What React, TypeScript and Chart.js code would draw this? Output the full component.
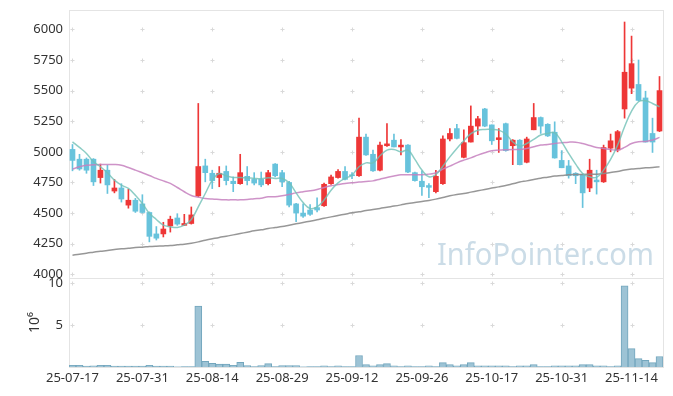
import React, { useEffect, useRef } from 'react';
import { Chart, registerables } from 'chart.js';

Chart.register(...registerables);

const dates = [
  '25-07-17','25-07-18','25-07-21','25-07-22','25-07-23','25-07-24','25-07-25','25-07-28','25-07-29','25-07-30',
  '25-07-31','25-08-01','25-08-04','25-08-05','25-08-06','25-08-07','25-08-08','25-08-11','25-08-12','25-08-13',
  '25-08-14','25-08-18','25-08-19','25-08-20','25-08-21','25-08-22','25-08-25','25-08-26','25-08-27','25-08-28',
  '25-08-29','25-09-01','25-09-02','25-09-03','25-09-04','25-09-05','25-09-08','25-09-09','25-09-10','25-09-11',
  '25-09-12','25-09-15','25-09-16','25-09-17','25-09-18','25-09-19','25-09-22','25-09-23','25-09-24','25-09-25',
  '25-09-26','25-09-29','25-09-30','25-10-01','25-10-02','25-10-10','25-10-13','25-10-14','25-10-15','25-10-16',
  '25-10-17','25-10-20','25-10-21','25-10-22','25-10-23','25-10-24','25-10-27','25-10-28','25-10-29','25-10-30',
  '25-10-31','25-11-03','25-11-04','25-11-05','25-11-06','25-11-07','25-11-10','25-11-11','25-11-12','25-11-13',
  '25-11-14','25-11-17','25-11-18','25-11-19','25-11-20'
];

const opens = [
  5020,4940,4940,4940,4790,4850,4680,4705,4565,4605,
  4575,4505,4330,4330,4395,4460,4400,4415,4640,4885,
  4825,4790,4840,4760,4740,4800,4775,4775,4740,4900,
  4830,4750,4575,4500,4525,4545,4560,4740,4790,4840,
  4810,4805,5120,4980,4850,5050,5095,5040,5055,4830,
  4760,4725,4675,4740,5105,5190,4955,5080,5210,5350,
  5220,5100,5230,5050,5095,4915,5180,5280,5225,5160,
  4930,4885,4825,4815,4705,4770,4755,5030,5015,5350,
  5520,5550,5440,5150,5170
];

const closes = [
  4930,4860,4850,4755,4850,4730,4705,4615,4605,4515,
  4505,4310,4295,4370,4450,4410,4415,4485,4880,4830,
  4765,4825,4765,4740,4830,4765,4745,4730,4830,4805,
  4755,4565,4500,4475,4490,4525,4735,4795,4840,4775,
  4805,5120,4975,4845,5055,5065,5040,5055,4835,4765,
  4715,4710,4800,5105,5150,5110,5075,5210,5270,5210,
  5090,5115,5010,5095,4895,5105,5280,5210,5130,4950,
  4870,4805,4805,4665,4850,4755,5035,5090,5165,5650,
  5720,5420,5080,5080,5500
];

const highs = [
  5060,4980,4950,4945,4900,4890,4775,4740,4695,4620,
  4650,4510,4390,4425,4475,4495,4490,4550,5395,4940,
  4850,4880,4885,4795,4980,4880,4830,4835,4850,4905,
  4850,4760,4580,4575,4570,4625,4745,4810,4855,4880,
  4830,5275,5145,5015,5080,5230,5145,5100,5060,4835,
  4845,4740,4850,5130,5190,5225,5180,5375,5290,5355,
  5220,5190,5235,5100,5100,5120,5395,5285,5230,5245,
  5010,4930,4830,4820,4940,4850,5055,5145,5175,6060,
  5945,5750,5495,5275,5615
];

const lows = [
  4845,4850,4825,4725,4745,4660,4665,4590,4540,4505,
  4500,4265,4280,4305,4345,4400,4398,4410,4635,4755,
  4700,4715,4730,4675,4735,4730,4730,4715,4730,4795,
  4715,4550,4430,4465,4480,4510,4555,4735,4785,4770,
  4780,4800,4970,4840,4845,5045,5040,4975,4830,4760,
  4645,4625,4665,4735,5090,5105,4950,5080,5140,5205,
  5060,4995,5005,4895,4893,4910,5180,5150,5125,4948,
  4870,4785,4740,4545,4675,4655,4750,5000,5000,5275,
  5475,5415,5080,4995,5165
];

const ma5 = [
  5082,5036,4987,4919,4878,4829,4769,4728,4701,4646,
  4578,4497,4448,4401,4388,4382,4401,4448,4551,4660,
  4769,4823,4804,4791,4791,4788,4783,4780,4788,4783,
  4783,4747,4665,4586,4538,4551,4606,4687,4747,4783,
  4810,4878,4910,4910,4968,5014,5019,5000,5014,4938,
  4851,4796,4815,4883,4959,5028,5090,5148,5177,5183,
  5183,5177,5145,5082,5047,5068,5101,5137,5150,5156,
  5082,4987,4900,4823,4796,4791,4851,4938,5055,5205,
  5333,5409,5417,5395,5368
];

const ma20 = [
  4859,4878,4891,4894,4897,4897,4897,4891,4872,4851,
  4829,4807,4783,4763,4742,4709,4674,4644,4630,4619,
  4614,4611,4608,4608,4608,4611,4617,4622,4633,4633,
  4641,4652,4665,4674,4682,4693,4709,4723,4733,4742,
  4747,4753,4758,4763,4777,4791,4802,4813,4813,4813,
  4813,4818,4829,4859,4883,4910,4932,4951,4973,4992,
  5009,5014,5017,5019,5019,5028,5041,5055,5060,5068,
  5074,5079,5079,5068,5052,5036,5028,5019,5014,5036,
  5068,5082,5085,5096,5118
];

const ma60 = [
  4156,4164,4173,4181,4189,4194,4203,4208,4213,4219,
  4222,4227,4230,4232,4235,4241,4246,4254,4265,4279,
  4290,4301,4311,4322,4333,4344,4355,4363,4374,4382,
  4390,4401,4412,4423,4434,4445,4458,4469,4480,4491,
  4502,4510,4521,4529,4538,4548,4557,4567,4578,4586,
  4595,4603,4614,4627,4641,4652,4660,4671,4682,4693,
  4704,4714,4725,4739,4753,4763,4774,4785,4793,4802,
  4807,4813,4815,4815,4818,4818,4823,4832,4840,4851,
  4859,4864,4870,4872,4878
];

// volume in millions of shares
const volumes = [
  0.2,0.2,0.1,0.15,0.2,0.2,0.1,0.1,0.1,0.1,
  0.1,0.2,0.1,0.1,0.1,0.03,0.05,0.05,7.28,0.68,
  0.45,0.35,0.35,0.2,0.56,0.18,0.05,0.18,0.4,0.05,
  0.18,0.18,0.18,0.03,0.05,0.05,0.15,0.05,0.15,0.05,
  0.05,1.37,0.3,0.15,0.3,0.4,0.15,0.05,0.15,0.05,
  0.05,0.15,0.05,0.52,0.3,0.15,0.3,0.52,0.15,0.15,
  0.15,0.15,0.15,0.05,0.15,0.15,0.3,0.05,0.05,0.15,
  0.15,0.15,0.15,0.3,0.3,0.15,0.15,0.05,0.15,9.68,
  2.2,1.0,0.8,0.52,1.25
];

const xTickLabels = ['25-07-17','25-07-31','25-08-14','25-08-29','25-09-12','25-09-26','25-10-17','25-10-31','25-11-14'];
const priceTicks = [4000,4250,4500,4750,5000,5250,5500,5750,6000];
const volumeTicks = [5,10];
const volumeTitle = '10⁶';
const watermarkText = 'InfoPointer.com';

const UP = '#ee3737';
const DOWN = '#68c3dc';

const framePlugin = {
  id: 'frameAndCrosses',
  beforeDatasetsDraw(chart: any) {
    const { ctx, chartArea, scales } = chart;
    const xs = scales.x, yp = scales.y, yv = scales.vol;
    ctx.save();
    // watermark
    ctx.font = "31px 'Noto Sans', sans-serif";
    ctx.fillStyle = '#cbdce7';
    ctx.textAlign = 'right';
    ctx.textBaseline = 'alphabetic';
    ctx.fillText(watermarkText, chartArea.right - 9, yp.bottom - 13, 217);
    // frames
    ctx.strokeStyle = '#e4e4e4';
    ctx.lineWidth = 1;
    ctx.strokeRect(chartArea.left + 0.5, yp.top + 0.5, chartArea.right - chartArea.left, yp.bottom - yp.top);
    ctx.strokeRect(chartArea.left + 0.5, yv.top + 0.5, chartArea.right - chartArea.left, yv.bottom - yv.top);
    // crosses
    ctx.strokeStyle = '#d9d9d9';
    const drawCross = (px: number, py: number) => {
      const cx = Math.round(px) + 0.5, cy = Math.round(py) + 0.5;
      ctx.beginPath();
      ctx.moveTo(cx - 2, cy); ctx.lineTo(cx + 2, cy);
      ctx.moveTo(cx, cy - 2); ctx.lineTo(cx, cy + 2);
      ctx.stroke();
    };
    xs.ticks.forEach((t: any) => {
      const px = xs.getPixelForValue(t.value);
      yp.ticks.forEach((u: any) => drawCross(px, yp.getPixelForValue(u.value)));
      yv.ticks.forEach((u: any) => drawCross(px, yv.getPixelForValue(u.value)));
    });
    ctx.restore();
  },
};

export default function App() {
  const ref = useRef<HTMLCanvasElement>(null);
  useEffect(() => {
    const colors = opens.map((o, i) => (closes[i] >= o ? UP : DOWN));
    Chart.defaults.font.family = "'Noto Sans', sans-serif";
    Chart.defaults.font.size = 13;
    Chart.defaults.color = '#333';
    const fitY = (s: any) => { s.width = 61; s.paddingTop = 0; s.paddingBottom = 0; };
    const chart = new Chart(ref.current as HTMLCanvasElement, {
      type: 'bar',
      data: {
        labels: dates,
        datasets: [
          { type: 'line', data: ma5, borderColor: 'rgba(112,192,182,0.8)', borderWidth: 1.5, pointRadius: 0, tension: 0.4, yAxisID: 'y', order: 0 } as any,
          { type: 'line', data: ma20, borderColor: 'rgba(198,128,190,0.85)', borderWidth: 1.5, pointRadius: 0, tension: 0.4, yAxisID: 'y', order: 0 } as any,
          { type: 'line', data: ma60, borderColor: 'rgba(140,140,140,0.9)', borderWidth: 1.5, pointRadius: 0, tension: 0.4, yAxisID: 'y', order: 0 } as any,
          { type: 'bar', data: lows.map((l, i) => [l, highs[i]]), backgroundColor: colors, barThickness: 1, grouped: false, yAxisID: 'y', order: 1 } as any,
          { type: 'bar', data: opens.map((o, i) => [o, closes[i]]), backgroundColor: colors, barThickness: 5, minBarLength: 1, grouped: false, yAxisID: 'y', order: 1 } as any,
          { type: 'bar', data: volumes, backgroundColor: '#9dc3d5', borderColor: '#73a6bd', borderWidth: 1, barPercentage: 1, categoryPercentage: 1, grouped: false, yAxisID: 'vol', order: 2 } as any,
        ],
      },
      options: {
        responsive: false,
        animation: false,
        events: [],
        layout: { padding: { left: 8, top: 10, right: 10, bottom: 0 } },
        plugins: { legend: { display: false }, tooltip: { enabled: false } },
        scales: {
          x: {
            type: 'category',
            offset: true,
            grid: { display: false, drawTicks: false },
            border: { display: false },
            ticks: { autoSkip: false, maxRotation: 0, padding: 3, color: '#333', font: { size: 13 } },
            afterBuildTicks: (s: any) => { s.ticks = s.ticks.filter((t: any) => xTickLabels.includes(dates[t.value])); },
            afterFit: (s: any) => { s.height = 29; s.paddingLeft = 0; s.paddingRight = 0; },
          },
          vol: {
            type: 'linear',
            position: 'left',
            stack: 'main',
            stackWeight: 89,
            min: 0,
            max: 10.63,
            grid: { display: false, drawTicks: false },
            border: { display: false },
            ticks: { autoSkip: false, padding: 6, color: '#333', font: { size: 13 }, callback: (v: any) => String(v) },
            afterBuildTicks: (s: any) => { s.ticks = volumeTicks.map((v) => ({ value: v })); },
            title: { display: true, text: volumeTitle, color: '#333', font: { size: 14 }, padding: { top: 19, bottom: 0 } },
            afterFit: fitY,
          },
          y: {
            type: 'linear',
            position: 'left',
            stack: 'main',
            stackWeight: 268,
            min: 3970,
            max: 6158,
            grid: { display: false, drawTicks: false },
            border: { display: false },
            ticks: { autoSkip: false, padding: 6, color: '#333', font: { size: 13 }, callback: (v: any) => String(v) },
            afterBuildTicks: (s: any) => { s.ticks = priceTicks.map((v) => ({ value: v })); },
            afterFit: fitY,
          },
        } as any,
      },
      plugins: [framePlugin],
    });
    return () => chart.destroy();
  }, []);
  return (
    <div style={{ position: 'absolute', left: 0, top: 0, width: 673, height: 396, background: '#fff' }}>
      <canvas ref={ref} width={673} height={396} style={{ display: 'block' }} />
    </div>
  );
}
